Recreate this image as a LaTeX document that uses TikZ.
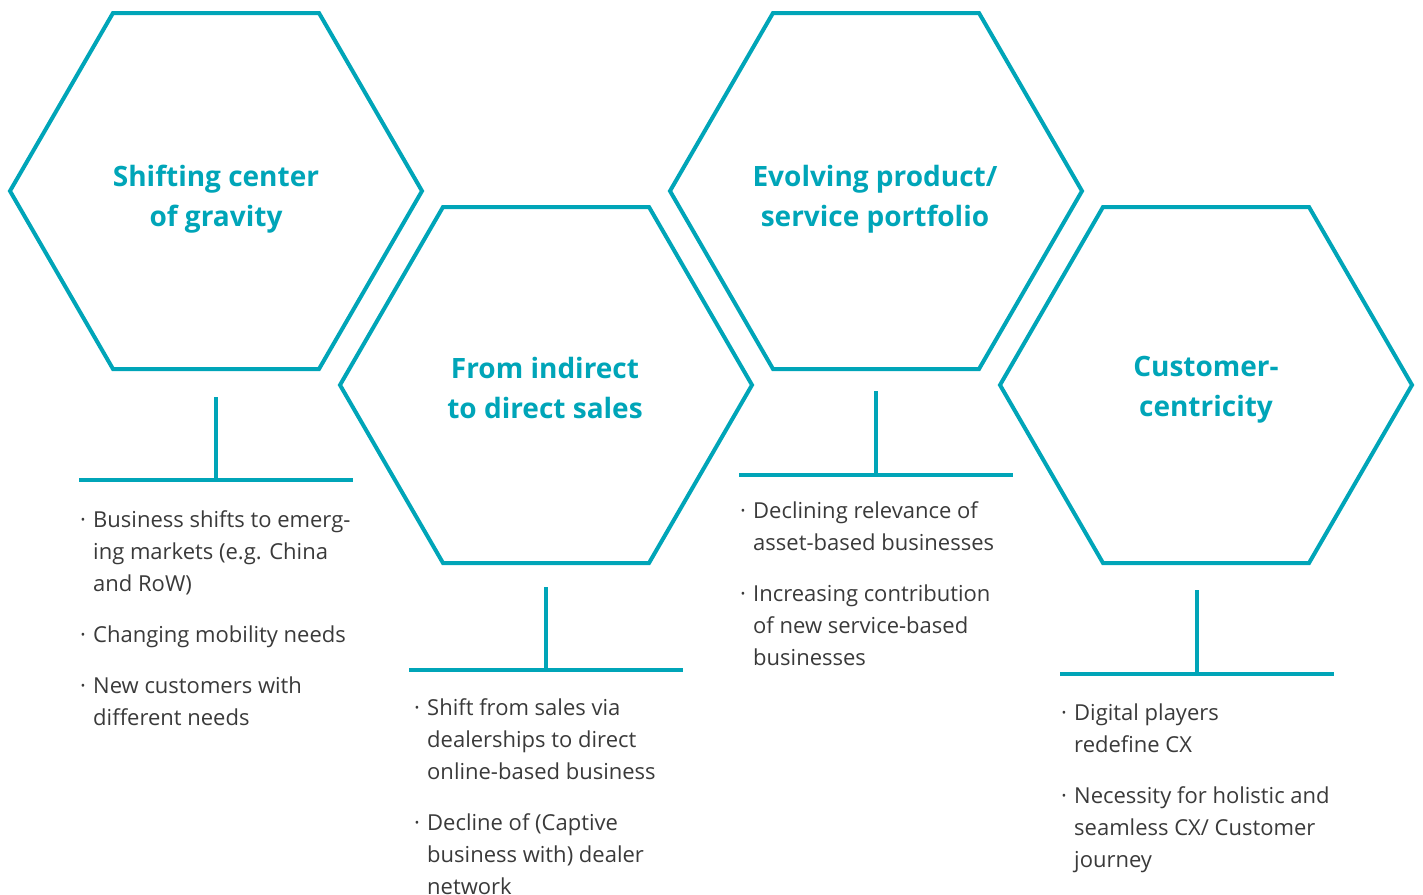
\documentclass[tikz,border=0pt]{standalone}
\usepackage{fontspec}
\setmainfont{Open Sans}
\definecolor{teal}{HTML}{00A5B8}
\definecolor{bodygray}{HTML}{3A3A3A}
\tikzset{
  hexline/.style={draw=teal, line width=4pt, line join=miter},
  stemline/.style={draw=teal, line width=4pt},
  title/.style={anchor=north, align=center, inner sep=0pt, text=teal,
    font=\fontsize{28}{40}\selectfont\bfseries},
  bullets/.style={anchor=north west, align=left, inner sep=0pt, text=bodygray,
    font=\fontsize{22}{32}\selectfont},
}
\newcommand{\bitem}{\rule{0pt}{18pt}\makebox[13pt][l]{·}}
\newcommand{\bcont}{\hspace*{13pt}}
\begin{document}
\begin{tikzpicture}[x=1pt,y=-1pt]
\useasboundingbox (0,0) rectangle (1423,894);
\clip (0,0) rectangle (1423,894);
% hexagons
\foreach \cx/\cy in {216/191, 546/385, 876/191, 1206/385}{
  \draw[hexline] (\cx,\cy) +(-206,0) -- +(-103,-178) -- +(103,-178) -- +(206,0) -- +(103,178) -- +(-103,178) -- cycle;
}
% titles
\node[title] (t1) at (216,164) {\rule{0pt}{22pt}Shifting center\\of gravity};
\node[title] (t2) at (545,356) {\rule{0pt}{22pt}From indirect\\to direct sales};
\node[title] (t3) at (875,164) {\rule{0pt}{22pt}Evolving product/\\service portfolio};
\node[title] (t4) at (1206,354) {\rule{0pt}{22pt}Customer-\\centricity};
% stems
\coordinate (a1) at (216,397); \coordinate (b1) at (216,480);
\coordinate (l1) at (79,480); \coordinate (r1) at (353,480);
\coordinate (a2) at (546,587); \coordinate (b2) at (546,670);
\coordinate (l2) at (409,670); \coordinate (r2) at (683,670);
\coordinate (a3) at (876,391); \coordinate (b3) at (876,475);
\coordinate (l3) at (739,475); \coordinate (r3) at (1013,475);
\coordinate (a4) at (1197,590); \coordinate (b4) at (1197,674);
\coordinate (l4) at (1060,674); \coordinate (r4) at (1334,674);
\foreach \i in {1,2,3,4}{
  \draw[stemline] (a\i) -- (b\i);
  \draw[stemline] (l\i) -- (r\i);
}
% bullet lists
\node[bullets] (p1) at (80,509) {\bitem Business shifts to emerg-\\\bcont ing markets (e.g. China\\\bcont and RoW)\\[19pt]\bitem Changing mobility needs\\[19pt]\bitem New customers with\\\bcont different needs};
\node[bullets] (p2) at (414,697) {\bitem Shift from sales via\\\bcont dealerships to direct\\\bcont online-based business\\[19pt]\bitem Decline of (Captive\\\bcont business with) dealer\\\bcont network};
\node[bullets] (p3) at (740,500) {\bitem Declining relevance of\\\bcont asset-based businesses\\[19pt]\bitem Increasing contribution\\\bcont of new service-based\\\bcont businesses};
\node[bullets] (p4) at (1061,702) {\bitem Digital players\\\bcont redefine CX\\[19pt]\bitem Necessity for holistic and\\\bcont seamless CX/ Customer\\\bcont journey};
\end{tikzpicture}
\end{document}
